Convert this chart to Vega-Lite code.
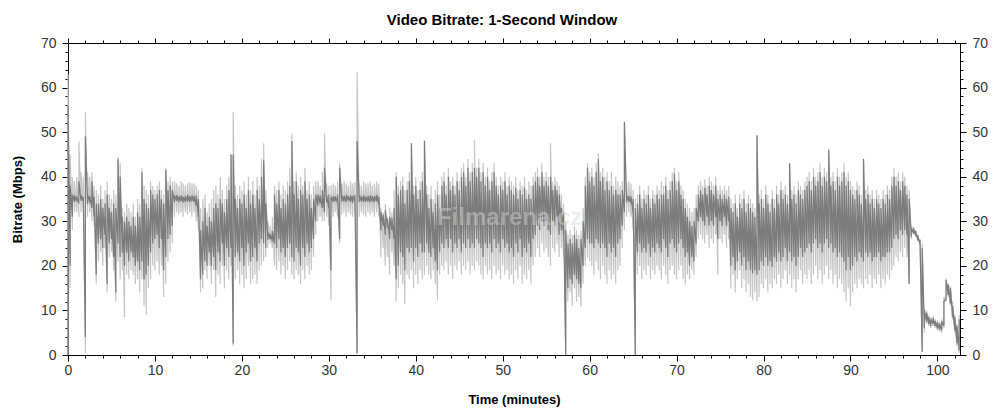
{
"$schema":"https://vega.github.io/schema/vega-lite/v6.json",
"width":892,"height":312,
"autosize":"none",
"padding":{"left":68,"top":43,"right":44,"bottom":65},
"background":"white",
"config":{"view":{"stroke":null},"font":"Liberation Sans"},
"title":{"text":"Video Bitrate: 1-Second Window","font":"Liberation Sans","fontSize":15,"fontWeight":"bold","color":"#000","offset":8,"dx":-12},
"data":{"values":[
{"t":0,"a":0,"b":63,"c":0,"d":56},
{"t":0.25,"a":15,"b":45,"c":20,"d":38},
{"t":0.5,"a":28,"b":40,"c":31,"d":36},
{"t":0.75,"a":32,"b":39,"c":34.3,"d":35.8},
{"t":1,"a":32,"b":40,"c":34.5,"d":35.6},
{"t":1.25,"a":31,"b":48,"c":34,"d":39},
{"t":1.5,"a":32,"b":41,"c":34.6,"d":35.9},
{"t":1.75,"a":33,"b":40,"c":34.4,"d":35.5},
{"t":2,"a":0.5,"b":54.5,"c":4,"d":49},
{"t":2.25,"a":31,"b":41,"c":33.8,"d":36},
{"t":2.5,"a":32,"b":40,"c":34.2,"d":35.7},
{"t":2.75,"a":30,"b":41,"c":33,"d":39},
{"t":3,"a":29,"b":38,"c":31,"d":35.5},
{"t":3.25,"a":16,"b":37,"c":18,"d":34},
{"t":3.5,"a":21,"b":36,"c":25,"d":34},
{"t":3.75,"a":23,"b":38,"c":26,"d":35},
{"t":4,"a":20,"b":35,"c":24,"d":33},
{"t":4.25,"a":24,"b":37,"c":27,"d":34},
{"t":4.5,"a":14,"b":39,"c":16,"d":36},
{"t":4.75,"a":22,"b":36,"c":25,"d":33},
{"t":5,"a":23,"b":35,"c":26,"d":32},
{"t":5.25,"a":19,"b":37,"c":22,"d":34},
{"t":5.5,"a":12,"b":36,"c":14,"d":33},
{"t":5.75,"a":21,"b":44.5,"c":25,"d":44},
{"t":6,"a":17,"b":43,"c":22,"d":40},
{"t":6.25,"a":19,"b":33,"c":23,"d":31},
{"t":6.5,"a":8.5,"b":32,"c":20,"d":30},
{"t":6.75,"a":18,"b":34,"c":23,"d":31},
{"t":7,"a":17,"b":33,"c":21,"d":30},
{"t":7.25,"a":19,"b":32,"c":23,"d":29},
{"t":7.5,"a":18,"b":34,"c":22,"d":31},
{"t":7.75,"a":16,"b":31,"c":20,"d":29},
{"t":8,"a":17,"b":35,"c":21,"d":32},
{"t":8.25,"a":14,"b":34,"c":19,"d":31},
{"t":8.5,"a":17,"b":42,"c":21,"d":41},
{"t":8.75,"a":11,"b":38,"c":17,"d":35},
{"t":9,"a":9,"b":37,"c":18,"d":34},
{"t":9.25,"a":15,"b":36,"c":20,"d":33},
{"t":9.5,"a":17,"b":39,"c":23,"d":37},
{"t":9.75,"a":20,"b":38,"c":25,"d":36},
{"t":10,"a":19,"b":37,"c":26,"d":35},
{"t":10.25,"a":21,"b":38,"c":27,"d":36},
{"t":10.5,"a":18,"b":39,"c":24,"d":37},
{"t":10.75,"a":20,"b":37,"c":26,"d":35},
{"t":11,"a":13,"b":36,"c":19,"d":34},
{"t":11.25,"a":16,"b":42,"c":22,"d":41.5},
{"t":11.5,"a":21,"b":39,"c":26,"d":37},
{"t":11.75,"a":23,"b":40,"c":27,"d":38},
{"t":12,"a":25,"b":39,"c":29,"d":37},
{"t":12.25,"a":31,"b":39,"c":34.4,"d":35.8},
{"t":12.5,"a":32,"b":38.5,"c":34.6,"d":35.9},
{"t":12.75,"a":31.5,"b":38,"c":34.3,"d":35.6},
{"t":13,"a":32,"b":39,"c":34.5,"d":35.8},
{"t":13.25,"a":31,"b":38.5,"c":34.2,"d":35.5},
{"t":13.5,"a":32,"b":38,"c":34.4,"d":35.7},
{"t":13.75,"a":31.5,"b":38.5,"c":34.5,"d":35.9},
{"t":14,"a":32,"b":38.8,"c":34.3,"d":35.6},
{"t":14.25,"a":31,"b":38.5,"c":34.5,"d":35.8},
{"t":14.5,"a":32,"b":38.5,"c":34.4,"d":35.7},
{"t":14.75,"a":30,"b":38,"c":33.5,"d":35.8},
{"t":15,"a":28,"b":37,"c":31,"d":35},
{"t":15.25,"a":14,"b":33,"c":17,"d":28},
{"t":15.5,"a":15,"b":35,"c":18,"d":30},
{"t":15.75,"a":19,"b":36,"c":21,"d":33},
{"t":16,"a":17,"b":32,"c":20,"d":29},
{"t":16.25,"a":20,"b":34,"c":23,"d":31},
{"t":16.5,"a":16,"b":35,"c":20,"d":30},
{"t":16.75,"a":19,"b":37,"c":22,"d":33},
{"t":17,"a":13,"b":38,"c":19,"d":34},
{"t":17.25,"a":18,"b":36,"c":23,"d":33},
{"t":17.5,"a":16,"b":40,"c":21,"d":35},
{"t":17.75,"a":20,"b":37,"c":25,"d":34},
{"t":18,"a":15,"b":35,"c":20,"d":32},
{"t":18.25,"a":19,"b":38,"c":24,"d":35},
{"t":18.5,"a":17,"b":40,"c":22,"d":37},
{"t":18.75,"a":20,"b":45,"c":24,"d":45},
{"t":19,"a":2,"b":54.5,"c":2.6,"d":45},
{"t":19.25,"a":17,"b":38,"c":22,"d":35},
{"t":19.5,"a":19,"b":36,"c":23,"d":33},
{"t":19.75,"a":16,"b":38,"c":21,"d":35},
{"t":20,"a":18,"b":37,"c":24,"d":34},
{"t":20.25,"a":15,"b":39,"c":20,"d":36},
{"t":20.5,"a":17,"b":36,"c":23,"d":33},
{"t":20.75,"a":20,"b":40,"c":25,"d":37},
{"t":21,"a":16,"b":37,"c":21,"d":34},
{"t":21.25,"a":17,"b":39,"c":22,"d":36},
{"t":21.5,"a":18,"b":36,"c":24,"d":33},
{"t":21.75,"a":16,"b":40,"c":21,"d":37},
{"t":22,"a":19,"b":38,"c":25,"d":35},
{"t":22.25,"a":20,"b":44,"c":26,"d":40},
{"t":22.5,"a":21,"b":47.5,"c":25,"d":43.7},
{"t":22.75,"a":22,"b":37,"c":24,"d":34},
{"t":23,"a":24,"b":30,"c":25.8,"d":27.5},
{"t":23.25,"a":25,"b":29,"c":26,"d":27.2},
{"t":23.5,"a":24,"b":31,"c":25.5,"d":27.8},
{"t":23.75,"a":20,"b":38,"c":25,"d":36},
{"t":24,"a":19,"b":37,"c":24,"d":34},
{"t":24.25,"a":21,"b":39,"c":26,"d":37},
{"t":24.5,"a":18,"b":36,"c":23,"d":33},
{"t":24.75,"a":20,"b":38,"c":24,"d":35},
{"t":25,"a":17,"b":37,"c":22,"d":34},
{"t":25.25,"a":19,"b":39,"c":24,"d":36},
{"t":25.5,"a":21,"b":42,"c":25,"d":38},
{"t":25.75,"a":18,"b":49.7,"c":22,"d":48},
{"t":26,"a":17,"b":39,"c":21,"d":36},
{"t":26.25,"a":19,"b":41,"c":24,"d":39},
{"t":26.5,"a":18,"b":38,"c":23,"d":35},
{"t":26.75,"a":16,"b":40,"c":20,"d":37},
{"t":27,"a":19,"b":38,"c":24,"d":36},
{"t":27.25,"a":17,"b":42,"c":22,"d":39},
{"t":27.5,"a":20,"b":37,"c":25,"d":35},
{"t":27.75,"a":18,"b":39,"c":23,"d":36},
{"t":28,"a":19,"b":36,"c":24,"d":33},
{"t":28.25,"a":22,"b":38,"c":26,"d":35},
{"t":28.5,"a":27,"b":39,"c":30,"d":36},
{"t":28.75,"a":30,"b":39,"c":33.5,"d":36},
{"t":29,"a":31,"b":38,"c":34,"d":35.8},
{"t":29.25,"a":30,"b":41,"c":33,"d":37},
{"t":29.5,"a":30,"b":49.7,"c":32,"d":42},
{"t":29.75,"a":31,"b":38.5,"c":34.2,"d":35.8},
{"t":30,"a":29,"b":38,"c":33,"d":36},
{"t":30.25,"a":12.3,"b":38,"c":19,"d":35.5},
{"t":30.5,"a":31,"b":38.5,"c":34.3,"d":35.7},
{"t":30.75,"a":32,"b":38,"c":34.5,"d":35.6},
{"t":31,"a":31,"b":39,"c":34.2,"d":36},
{"t":31.25,"a":25,"b":43,"c":26,"d":42},
{"t":31.5,"a":31.5,"b":38.5,"c":34.4,"d":35.8},
{"t":31.75,"a":32,"b":39,"c":34.5,"d":35.7},
{"t":32,"a":31,"b":38.5,"c":34.3,"d":35.9},
{"t":32.25,"a":32,"b":38,"c":34.6,"d":35.6},
{"t":32.5,"a":31.5,"b":39,"c":34.4,"d":35.8},
{"t":32.75,"a":31,"b":38.5,"c":34.2,"d":35.7},
{"t":33,"a":32,"b":38.8,"c":34.5,"d":35.9},
{"t":33.25,"a":0.4,"b":63.5,"c":0.4,"d":48},
{"t":33.5,"a":31,"b":38.5,"c":34.3,"d":35.8},
{"t":33.75,"a":32,"b":38,"c":34.5,"d":35.6},
{"t":34,"a":31.5,"b":39,"c":34.4,"d":35.8},
{"t":34.25,"a":31,"b":38.5,"c":34.3,"d":35.5},
{"t":34.5,"a":32,"b":38.5,"c":34.5,"d":35.7},
{"t":34.75,"a":31.5,"b":39,"c":34.2,"d":35.8},
{"t":35,"a":32,"b":38,"c":34.4,"d":35.6},
{"t":35.25,"a":31,"b":38.5,"c":34.3,"d":35.7},
{"t":35.5,"a":32,"b":39,"c":34.5,"d":35.9},
{"t":35.75,"a":31,"b":38.5,"c":33.8,"d":35.5},
{"t":36,"a":22,"b":33,"c":28,"d":32},
{"t":36.25,"a":24,"b":32,"c":29,"d":31.5},
{"t":36.5,"a":20,"b":34,"c":27,"d":32.5},
{"t":36.75,"a":22,"b":31,"c":28.5,"d":30.5},
{"t":37,"a":18,"b":33,"c":26,"d":31},
{"t":37.25,"a":23,"b":32,"c":28,"d":30.8},
{"t":37.5,"a":20,"b":37,"c":26,"d":33},
{"t":37.75,"a":12,"b":41,"c":17,"d":40},
{"t":38,"a":15,"b":38,"c":20,"d":36},
{"t":38.25,"a":18,"b":39,"c":23,"d":37},
{"t":38.5,"a":16,"b":40,"c":22,"d":38},
{"t":38.75,"a":11.5,"b":37,"c":19,"d":34},
{"t":39,"a":18,"b":39,"c":24,"d":37},
{"t":39.25,"a":17,"b":41,"c":23,"d":39},
{"t":39.5,"a":19,"b":47.5,"c":24,"d":47.5},
{"t":39.75,"a":15,"b":38,"c":21,"d":36},
{"t":40,"a":18,"b":40,"c":24,"d":38},
{"t":40.25,"a":16,"b":37,"c":22,"d":35},
{"t":40.5,"a":19,"b":39,"c":25,"d":37},
{"t":40.75,"a":17,"b":41,"c":23,"d":39},
{"t":41,"a":18,"b":48.2,"c":23,"d":48},
{"t":41.25,"a":20,"b":38,"c":25,"d":36},
{"t":41.5,"a":18,"b":36,"c":23,"d":33},
{"t":41.75,"a":17,"b":38,"c":22,"d":35},
{"t":42,"a":19,"b":35,"c":24,"d":32},
{"t":42.25,"a":16,"b":37,"c":21,"d":34},
{"t":42.5,"a":12.3,"b":39,"c":19,"d":36},
{"t":42.75,"a":18,"b":36,"c":23,"d":33},
{"t":43,"a":20,"b":40,"c":25,"d":38},
{"t":43.25,"a":19,"b":41,"c":24,"d":39},
{"t":43.5,"a":21,"b":38,"c":26,"d":36},
{"t":43.75,"a":18,"b":42,"c":24,"d":40},
{"t":44,"a":20,"b":39,"c":26,"d":37},
{"t":44.25,"a":17,"b":40,"c":23,"d":38},
{"t":44.5,"a":20,"b":38,"c":25,"d":36},
{"t":44.75,"a":19,"b":41,"c":24,"d":39},
{"t":45,"a":21,"b":39,"c":26,"d":37},
{"t":45.25,"a":18,"b":42,"c":23,"d":40},
{"t":45.5,"a":20,"b":43,"c":25,"d":41},
{"t":45.75,"a":19,"b":40,"c":24,"d":38},
{"t":46,"a":21,"b":44,"c":26,"d":42},
{"t":46.25,"a":18,"b":41,"c":24,"d":39},
{"t":46.5,"a":20,"b":43,"c":25,"d":41},
{"t":46.75,"a":19,"b":48.2,"c":24,"d":42},
{"t":47,"a":21,"b":42,"c":26,"d":40},
{"t":47.25,"a":20,"b":44,"c":25,"d":42},
{"t":47.5,"a":18,"b":41,"c":24,"d":39},
{"t":47.75,"a":17,"b":43,"c":22,"d":41},
{"t":48,"a":20,"b":40,"c":25,"d":38},
{"t":48.25,"a":18,"b":42,"c":24,"d":40},
{"t":48.5,"a":19,"b":39,"c":25,"d":37},
{"t":48.75,"a":17,"b":41,"c":23,"d":39},
{"t":49,"a":20,"b":43,"c":26,"d":41},
{"t":49.25,"a":18,"b":40,"c":24,"d":38},
{"t":49.5,"a":19,"b":38,"c":25,"d":36},
{"t":49.75,"a":17,"b":40,"c":23,"d":38},
{"t":50,"a":20,"b":39,"c":26,"d":37},
{"t":50.25,"a":18,"b":41,"c":24,"d":39},
{"t":50.5,"a":19,"b":38,"c":25,"d":36},
{"t":50.75,"a":17,"b":40,"c":23,"d":38},
{"t":51,"a":18,"b":39,"c":24,"d":37},
{"t":51.25,"a":16,"b":38,"c":22,"d":36},
{"t":51.5,"a":19,"b":40,"c":25,"d":37.5},
{"t":51.75,"a":17,"b":37,"c":23,"d":35},
{"t":52,"a":20,"b":39,"c":26,"d":37},
{"t":52.25,"a":16,"b":38,"c":22,"d":36},
{"t":52.5,"a":18,"b":40,"c":24,"d":37.5},
{"t":52.75,"a":17,"b":37,"c":23,"d":35},
{"t":53,"a":19,"b":39,"c":25,"d":36},
{"t":53.25,"a":16,"b":38,"c":22,"d":35},
{"t":53.5,"a":20,"b":40,"c":26,"d":38},
{"t":53.75,"a":22,"b":41,"c":27,"d":39},
{"t":54,"a":24,"b":42,"c":29,"d":40},
{"t":54.25,"a":22,"b":40,"c":28,"d":38},
{"t":54.5,"a":25,"b":43,"c":30,"d":41},
{"t":54.75,"a":23,"b":40,"c":29,"d":38},
{"t":55,"a":24,"b":41,"c":30,"d":39},
{"t":55.25,"a":22,"b":40,"c":28,"d":38},
{"t":55.5,"a":20,"b":47.5,"c":27,"d":40},
{"t":55.75,"a":24,"b":39,"c":30,"d":37},
{"t":56,"a":23,"b":40,"c":29,"d":38},
{"t":56.25,"a":25,"b":39,"c":31,"d":37},
{"t":56.5,"a":22,"b":38,"c":27,"d":36},
{"t":56.75,"a":24,"b":36,"c":28,"d":33},
{"t":57,"a":22,"b":34,"c":27,"d":32},
{"t":57.25,"a":0,"b":30,"c":0,"d":28},
{"t":57.5,"a":12,"b":27,"c":15,"d":25},
{"t":57.75,"a":14,"b":28,"c":17,"d":26},
{"t":58,"a":11,"b":27,"c":16,"d":25},
{"t":58.25,"a":15,"b":29,"c":18,"d":27},
{"t":58.5,"a":12,"b":28,"c":17,"d":26},
{"t":58.75,"a":13,"b":27,"c":16,"d":24},
{"t":59,"a":10.8,"b":28,"c":15,"d":26},
{"t":59.25,"a":16,"b":33,"c":20,"d":30},
{"t":59.5,"a":20,"b":40,"c":24,"d":38},
{"t":59.75,"a":22,"b":43,"c":26,"d":42},
{"t":60,"a":21,"b":41,"c":25,"d":39},
{"t":60.25,"a":20,"b":42,"c":25,"d":40},
{"t":60.5,"a":18,"b":40,"c":24,"d":38},
{"t":60.75,"a":21,"b":43,"c":26,"d":41},
{"t":61,"a":19,"b":45.2,"c":25,"d":44},
{"t":61.25,"a":17,"b":41,"c":24,"d":39},
{"t":61.5,"a":20,"b":42,"c":25,"d":40},
{"t":61.75,"a":18,"b":40,"c":24,"d":37},
{"t":62,"a":16,"b":41,"c":22,"d":39},
{"t":62.25,"a":19,"b":39,"c":25,"d":37},
{"t":62.5,"a":17,"b":41,"c":23,"d":38},
{"t":62.75,"a":18,"b":38,"c":24,"d":36},
{"t":63,"a":16,"b":40,"c":22,"d":37},
{"t":63.25,"a":19,"b":39,"c":25,"d":36},
{"t":63.5,"a":20,"b":38,"c":26,"d":36},
{"t":63.75,"a":24,"b":39,"c":29,"d":37},
{"t":64,"a":28,"b":52.3,"c":32,"d":52.3},
{"t":64.25,"a":31,"b":38.5,"c":34.2,"d":35.8},
{"t":64.5,"a":32,"b":39,"c":34.4,"d":35.7},
{"t":64.75,"a":31,"b":38.5,"c":34,"d":35.6},
{"t":65,"a":28,"b":37,"c":32,"d":35},
{"t":65.25,"a":0,"b":35,"c":0,"d":33},
{"t":65.5,"a":18,"b":36,"c":23,"d":34},
{"t":65.75,"a":20,"b":38,"c":25,"d":36},
{"t":66,"a":17,"b":35,"c":23,"d":33},
{"t":66.25,"a":19,"b":37,"c":24,"d":35},
{"t":66.5,"a":18,"b":36,"c":23,"d":34},
{"t":66.75,"a":20,"b":38,"c":25,"d":36},
{"t":67,"a":17,"b":35,"c":22,"d":33},
{"t":67.25,"a":19,"b":37,"c":24,"d":35},
{"t":67.5,"a":18,"b":36,"c":23,"d":34},
{"t":67.75,"a":20,"b":38,"c":25,"d":36},
{"t":68,"a":19,"b":37,"c":24,"d":35},
{"t":68.25,"a":17,"b":39,"c":23,"d":36},
{"t":68.5,"a":20,"b":38,"c":26,"d":36},
{"t":68.75,"a":18,"b":40,"c":24,"d":38},
{"t":69,"a":16,"b":37,"c":22,"d":35},
{"t":69.25,"a":19,"b":39,"c":25,"d":37},
{"t":69.5,"a":20,"b":41,"c":26,"d":39},
{"t":69.75,"a":18,"b":42,"c":24,"d":40.7},
{"t":70,"a":17,"b":39,"c":23,"d":37},
{"t":70.25,"a":19,"b":41,"c":25,"d":39},
{"t":70.5,"a":20,"b":38,"c":26,"d":36},
{"t":70.75,"a":17,"b":37,"c":24,"d":35},
{"t":71,"a":16,"b":35,"c":22,"d":33},
{"t":71.25,"a":18,"b":34,"c":23,"d":31},
{"t":71.5,"a":17,"b":33,"c":20,"d":30},
{"t":71.75,"a":19,"b":32,"c":22,"d":29},
{"t":72,"a":18,"b":33,"c":21,"d":30},
{"t":72.25,"a":22,"b":36,"c":25,"d":33},
{"t":72.5,"a":26,"b":38,"c":30,"d":36},
{"t":72.75,"a":27,"b":39,"c":31,"d":37},
{"t":73,"a":26,"b":38,"c":30,"d":36},
{"t":73.25,"a":25,"b":39.5,"c":29,"d":37.5},
{"t":73.5,"a":27,"b":38,"c":31,"d":36},
{"t":73.75,"a":24,"b":40,"c":29,"d":38},
{"t":74,"a":26,"b":39,"c":30,"d":37},
{"t":74.25,"a":25,"b":38,"c":29,"d":36},
{"t":74.5,"a":27,"b":40,"c":31,"d":38},
{"t":74.75,"a":18,"b":37,"c":26,"d":35},
{"t":75,"a":26,"b":38,"c":30,"d":36},
{"t":75.25,"a":25,"b":37,"c":29,"d":35},
{"t":75.5,"a":27,"b":38,"c":31,"d":36},
{"t":75.75,"a":24,"b":37,"c":29,"d":35},
{"t":76,"a":26,"b":38,"c":30,"d":35.5},
{"t":76.25,"a":15,"b":35,"c":20,"d":33},
{"t":76.5,"a":18,"b":34,"c":22,"d":32},
{"t":76.75,"a":14,"b":36,"c":19,"d":34},
{"t":77,"a":17,"b":33,"c":21,"d":31},
{"t":77.25,"a":19,"b":36,"c":23,"d":34},
{"t":77.5,"a":15,"b":35,"c":20,"d":33},
{"t":77.75,"a":17,"b":37,"c":22,"d":35},
{"t":78,"a":14,"b":34,"c":19,"d":32},
{"t":78.25,"a":16,"b":36,"c":21,"d":34},
{"t":78.5,"a":13,"b":35,"c":19,"d":33},
{"t":78.75,"a":12.3,"b":34,"c":18.3,"d":32},
{"t":79,"a":14,"b":33,"c":19,"d":31},
{"t":79.25,"a":12,"b":49.3,"c":18,"d":49.3},
{"t":79.5,"a":13,"b":36,"c":19,"d":34},
{"t":79.75,"a":16,"b":37,"c":21,"d":35},
{"t":80,"a":15,"b":35,"c":20,"d":33},
{"t":80.25,"a":17,"b":38,"c":22,"d":36},
{"t":80.5,"a":14,"b":36,"c":20,"d":34},
{"t":80.75,"a":16,"b":34,"c":21,"d":32},
{"t":81,"a":15,"b":37,"c":19.8,"d":35},
{"t":81.25,"a":17,"b":35,"c":22,"d":33},
{"t":81.5,"a":16,"b":38,"c":21,"d":36},
{"t":81.75,"a":18,"b":36,"c":23,"d":34},
{"t":82,"a":15,"b":39,"c":21,"d":37},
{"t":82.25,"a":17,"b":37,"c":22,"d":35},
{"t":82.5,"a":19,"b":38,"c":24,"d":36},
{"t":82.75,"a":16,"b":36,"c":21,"d":34},
{"t":83,"a":18,"b":43,"c":23,"d":43},
{"t":83.25,"a":15,"b":37,"c":21,"d":35},
{"t":83.5,"a":17,"b":38,"c":22,"d":36},
{"t":83.75,"a":14,"b":36,"c":20,"d":34},
{"t":84,"a":17,"b":39,"c":22,"d":37},
{"t":84.25,"a":19,"b":38,"c":24,"d":36},
{"t":84.5,"a":16,"b":37,"c":22,"d":35},
{"t":84.75,"a":18,"b":39,"c":23,"d":37},
{"t":85,"a":17,"b":40,"c":24,"d":38},
{"t":85.25,"a":19,"b":41,"c":25,"d":39},
{"t":85.5,"a":16,"b":39,"c":23,"d":37},
{"t":85.75,"a":18,"b":42,"c":25,"d":40},
{"t":86,"a":20,"b":40,"c":26,"d":38},
{"t":86.25,"a":17,"b":41,"c":24,"d":39},
{"t":86.5,"a":19,"b":43,"c":25,"d":41},
{"t":86.75,"a":16,"b":40,"c":23,"d":38},
{"t":87,"a":18,"b":42,"c":25,"d":40},
{"t":87.25,"a":20,"b":41,"c":26,"d":39},
{"t":87.5,"a":17,"b":46.3,"c":24,"d":46},
{"t":87.75,"a":19,"b":40,"c":25,"d":38},
{"t":88,"a":16,"b":41,"c":23,"d":39},
{"t":88.25,"a":18,"b":39,"c":24,"d":37},
{"t":88.5,"a":15,"b":42,"c":22,"d":40},
{"t":88.75,"a":17,"b":40,"c":23,"d":38},
{"t":89,"a":16,"b":41,"c":22,"d":39},
{"t":89.25,"a":14,"b":43,"c":21,"d":41},
{"t":89.5,"a":12,"b":40,"c":19,"d":38},
{"t":89.75,"a":15,"b":41,"c":22,"d":39},
{"t":90,"a":11,"b":39,"c":19,"d":37},
{"t":90.25,"a":14,"b":38,"c":20,"d":36},
{"t":90.5,"a":16,"b":37,"c":22,"d":35},
{"t":90.75,"a":15,"b":39,"c":21,"d":37},
{"t":91,"a":17,"b":38,"c":23,"d":36},
{"t":91.25,"a":16,"b":36,"c":22,"d":34},
{"t":91.5,"a":15,"b":44,"c":21,"d":44},
{"t":91.75,"a":17,"b":37,"c":23,"d":35},
{"t":92,"a":16,"b":38,"c":22,"d":36},
{"t":92.25,"a":18,"b":36,"c":23,"d":34},
{"t":92.5,"a":15,"b":37,"c":21,"d":35},
{"t":92.75,"a":17,"b":35,"c":22,"d":33},
{"t":93,"a":16,"b":37,"c":22,"d":35},
{"t":93.25,"a":18,"b":36,"c":23,"d":34},
{"t":93.5,"a":15,"b":35,"c":21,"d":33},
{"t":93.75,"a":17,"b":37,"c":22,"d":35},
{"t":94,"a":16,"b":36,"c":22,"d":34},
{"t":94.25,"a":18,"b":38,"c":23,"d":36},
{"t":94.5,"a":17,"b":37,"c":23,"d":35},
{"t":94.75,"a":19,"b":40,"c":24,"d":38},
{"t":95,"a":20,"b":42,"c":26,"d":40},
{"t":95.25,"a":22,"b":40,"c":27,"d":38},
{"t":95.5,"a":21,"b":41,"c":26,"d":39},
{"t":95.75,"a":23,"b":39,"c":28,"d":37},
{"t":96,"a":22,"b":41,"c":27,"d":39},
{"t":96.25,"a":24,"b":40,"c":28,"d":38},
{"t":96.5,"a":22,"b":38,"c":27,"d":36},
{"t":96.75,"a":16,"b":37,"c":16,"d":35},
{"t":97,"a":26,"b":29,"c":26.5,"d":28.5},
{"t":97.25,"a":27,"b":28.8,"c":27.3,"d":28.4},
{"t":97.5,"a":26.5,"b":28,"c":26.8,"d":27.8},
{"t":97.75,"a":25.5,"b":27,"c":25.8,"d":26.8},
{"t":98,"a":24.5,"b":26,"c":24.8,"d":25.8},
{"t":98.25,"a":0.7,"b":25,"c":0.7,"d":24},
{"t":98.5,"a":5,"b":10.5,"c":6,"d":10},
{"t":98.75,"a":7,"b":10,"c":7.5,"d":9.5},
{"t":99,"a":6.5,"b":9,"c":7,"d":8.5},
{"t":99.25,"a":6,"b":8.5,"c":6.5,"d":8},
{"t":99.5,"a":6.5,"b":8.8,"c":7,"d":8.3},
{"t":99.75,"a":6,"b":8,"c":6.5,"d":7.6},
{"t":100,"a":5.5,"b":7.8,"c":6,"d":7.3},
{"t":100.25,"a":5.2,"b":7.5,"c":5.7,"d":7},
{"t":100.5,"a":5,"b":8,"c":5.5,"d":7.5},
{"t":100.75,"a":6,"b":13,"c":6.5,"d":12},
{"t":101,"a":12,"b":17.2,"c":12.5,"d":16.8},
{"t":101.25,"a":13,"b":16,"c":13.5,"d":15.8},
{"t":101.5,"a":11,"b":15.5,"c":11.5,"d":15},
{"t":101.75,"a":8,"b":12,"c":8.5,"d":11},
{"t":102,"a":5,"b":9,"c":5.5,"d":8.5},
{"t":102.25,"a":2,"b":7,"c":2.6,"d":6.5},
{"t":102.5,"a":0.5,"b":9,"c":1,"d":8}
]},
"layer":[
{"transform":[{"fold":["a","b"],"as":["k","v"]}],
 "mark":{"type":"line","color":"#c6c6c6","strokeWidth":1.2},
 "encoding":{
  "order":[{"field":"t","type":"quantitative"},{"field":"k","type":"nominal"}],
  "x":{"field":"t","type":"quantitative","scale":{"domain":[0,102.6],"nice":false,"zero":false},
   "axis":{"orient":"bottom","title":"Time (minutes)","values":[0,2,4,6,8,10,12,14,16,18,20,22,24,26,28,30,32,34,36,38,40,42,44,46,48,50,52,54,56,58,60,62,64,66,68,70,72,74,76,78,80,82,84,86,88,90,92,94,96,98,100,102],
    "labelExpr":"datum.value % 10 === 0 ? datum.label : ''","labelOverlap":false,"labelFlush":false,
    "tickSize":{"condition":{"test":"datum.value % 10 === 0","value":6},"value":3},
    "labelFont":"Liberation Sans","labelFontSize":14,"labelColor":"#333","labelPadding":2,
    "titleFont":"Liberation Sans","titleFontSize":13,"titleFontWeight":"bold","titleColor":"#000","titlePadding":16,
    "domainColor":"#000","tickColor":"#000","grid":false}},
  "y":{"field":"v","type":"quantitative","scale":{"domain":[0,70],"nice":false},
   "axis":{"orient":"left","title":"Bitrate (Mbps)","values":[0,2,4,6,8,10,12,14,16,18,20,22,24,26,28,30,32,34,36,38,40,42,44,46,48,50,52,54,56,58,60,62,64,66,68,70],
    "labelExpr":"datum.value % 10 === 0 ? datum.label : ''","labelOverlap":false,"labelFlush":false,
    "tickSize":{"condition":{"test":"datum.value % 10 === 0","value":6},"value":3},
    "labelFont":"Liberation Sans","labelFontSize":14,"labelColor":"#333","labelPadding":6,
    "titleFont":"Liberation Sans","titleFontSize":13,"titleFontWeight":"bold","titleColor":"#000","titlePadding":16,
    "domainColor":"#000","tickColor":"#000","grid":false}}}},
{"transform":[{"fold":["c","d"],"as":["k","v"]}],
 "mark":{"type":"line","color":"#7c7c7c","strokeWidth":1.2},
 "encoding":{
  "order":[{"field":"t","type":"quantitative"},{"field":"k","type":"nominal"}],
  "x":{"field":"t","type":"quantitative",
   "axis":{"orient":"top","title":null,"labels":false,"values":[0,2,4,6,8,10,12,14,16,18,20,22,24,26,28,30,32,34,36,38,40,42,44,46,48,50,52,54,56,58,60,62,64,66,68,70,72,74,76,78,80,82,84,86,88,90,92,94,96,98,100,102],
    "tickSize":{"condition":{"test":"datum.value % 10 === 0","value":5},"value":3},
    "domainColor":"#000","tickColor":"#000","grid":false}},
  "y":{"field":"v","type":"quantitative",
   "axis":{"orient":"right","title":null,"values":[0,2,4,6,8,10,12,14,16,18,20,22,24,26,28,30,32,34,36,38,40,42,44,46,48,50,52,54,56,58,60,62,64,66,68,70],
    "labelExpr":"datum.value % 10 === 0 ? datum.label : ''","labelOverlap":false,"labelFlush":false,
    "tickSize":{"condition":{"test":"datum.value % 10 === 0","value":6},"value":3},
    "labelFont":"Liberation Sans","labelFontSize":14,"labelColor":"#333","labelPadding":6,
    "domainColor":"#000","tickColor":"#000","grid":false}}}},
{"data":{"values":[{"t":50.8,"v":30.7,"label":"Filmarena.cz"}]},
 "mark":{"type":"text","font":"Liberation Sans","fontSize":24,"fontWeight":"bold","color":"#d8d8d8","opacity":0.45},
 "encoding":{
  "x":{"field":"t","type":"quantitative","axis":null},
  "y":{"field":"v","type":"quantitative","axis":null},
  "text":{"field":"label"}}}
],
"resolve":{"axis":{"x":"independent","y":"independent"}}
}
